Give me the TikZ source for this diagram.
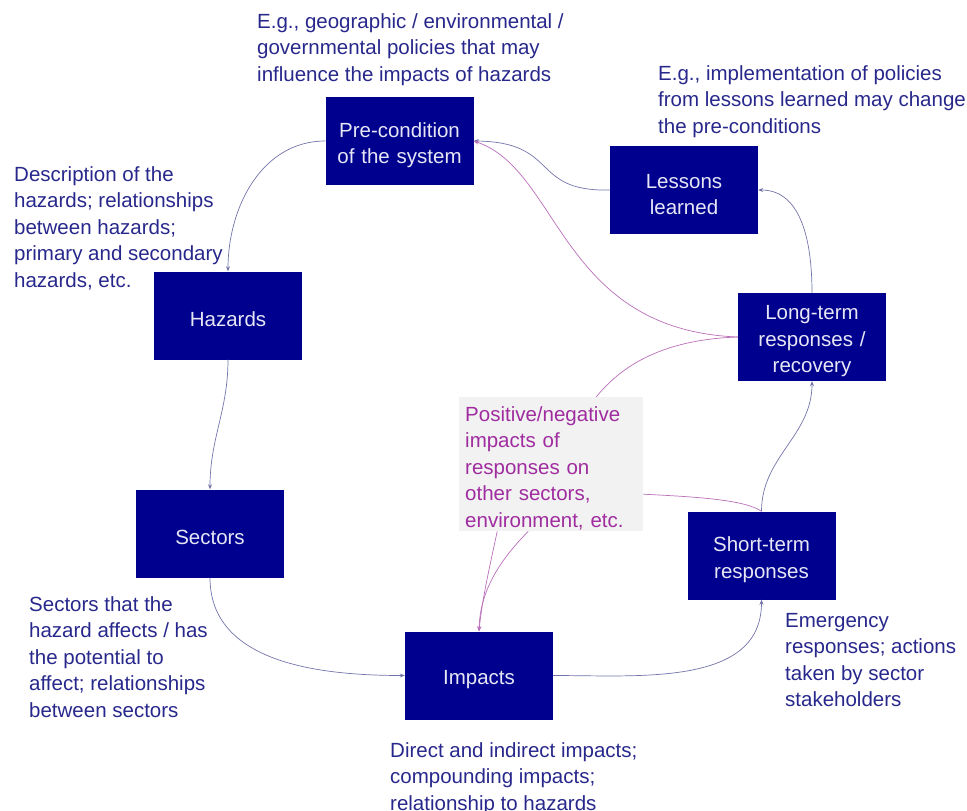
\documentclass[tikz,border=0pt]{standalone}
\usepackage{fontspec}
\setmainfont{Liberation Sans}
\usetikzlibrary{arrows.meta,calc}

\definecolor{boxblue}{RGB}{0,0,143}
\definecolor{boxtext}{RGB}{230,230,245}
\definecolor{notetext}{RGB}{40,40,140}
\definecolor{linkblue}{RGB}{115,115,170}
\definecolor{linkpink}{RGB}{185,110,185}
\definecolor{pinktext}{RGB}{160,45,160}
\definecolor{notegray}{RGB}{242,242,242}

\begin{document}
\begin{tikzpicture}[x=1pt, y=-1pt,
    every node/.style={font=\fontsize{20.5}{26.5}\selectfont},
    stage/.style={rectangle, fill=boxblue, text=boxtext, align=center, text width=140pt,
        minimum width=148pt, minimum height=88pt, inner sep=0pt,
        execute at begin node={\rule{0pt}{23pt}}},
    remark/.style={anchor=north west, text=notetext, align=left, inner sep=0pt},
    link/.style={draw=linkblue, line width=0.7pt, -{Stealth[length=5pt,width=4pt]}},
    feedback/.style={draw=linkpink, line width=0.7pt}]
    \useasboundingbox (0,0) rectangle (967,811);

    % Stages of the cycle
    \node[stage] (pre) at (399.5,141) {Pre-condition\\of the system};
    \node[stage] (les) at (684,190) {Lessons\\learned};
    \node[stage] (haz) at (228,315.5) {Hazards};
    \node[stage] (lt)  at (812,337) {Long-term\\responses /\\recovery};
    \node[stage] (sec) at (210,533.5) {Sectors};
    \node[stage] (st)  at (761.5,555.5) {Short-term\\responses};
    \node[stage] (imp) at (479,675.5) {Impacts};

    % Grey note in the middle
    \node[anchor=north west, fill=notegray, text=pinktext, align=left,
        minimum width=184pt, minimum height=134pt, text width=172pt,
        inner xsep=6pt, inner ysep=0pt,
        execute at begin node={\rule{0pt}{23pt}}] (note) at (459,397)
        {Positive/negative\\impacts of\\responses on\\other sectors,\\environment, etc.};

    % Remarks
    \node[remark] (preRem) at (257,13) {E.g., geographic / environmental /\\governmental policies that may\\influence the impacts of hazards};
    \node[remark] (lesRem) at (658,65) {E.g., implementation of policies\\from lessons learned may change\\the pre-conditions};
    \node[remark] (hazRem) at (14,166) {Description of the\\hazards; relationships\\between hazards;\\primary and secondary\\hazards, etc.};
    \node[remark] (secRem) at (29,596) {Sectors that the\\hazard affects / has\\the potential to\\affect; relationships\\between sectors};
    \node[remark] (impRem) at (390,742) {Direct and indirect impacts;\\compounding impacts;\\relationship to hazards};
    \node[remark] (stRem)  at (785,613) {Emergency\\responses; actions\\taken by sector\\stakeholders};

    % Cycle
    \draw[link] (pre.west) to[out=180, in=90] (haz.north);
    \draw[link] (haz.south) to[out=-90, in=90] (sec.north);
    \draw[link] (sec.south) to[out=-90, in=180] (imp.west);
    \draw[link] (imp.east) to[out=0, in=-90] (st.south);
    \draw[link] (st.north) to[out=90, in=-90] (lt.south);
    \draw[link] (lt.north) to[out=90, in=0] (les.east);
    \draw[link] (les.west) .. controls (530,192) and (560,142) .. (pre.east);

    % Feedback of the responses
    \draw[feedback] ([xshift=45pt]note.north) .. controls (630,355) and (680,339) .. (lt.west);
    \draw[feedback, -{Stealth[length=5pt,width=4pt]}] (lt.west) .. controls (560,330) and (560,170) .. (pre.east);
    \draw[feedback] ([yshift=-30pt]note.east) .. controls (700,497) and (745,500) .. (st.north);
    \draw[feedback, -{Stealth[length=5pt,width=4pt]}] ([xshift=-54pt]note.south) .. controls (490,565) and (482,600) .. (imp.north);
    \draw[feedback, -{Stealth[length=5pt,width=4pt]}] ([xshift=-23pt]note.south) .. controls (495,565) and (480,595) .. (imp.north);
\end{tikzpicture}
\end{document}
